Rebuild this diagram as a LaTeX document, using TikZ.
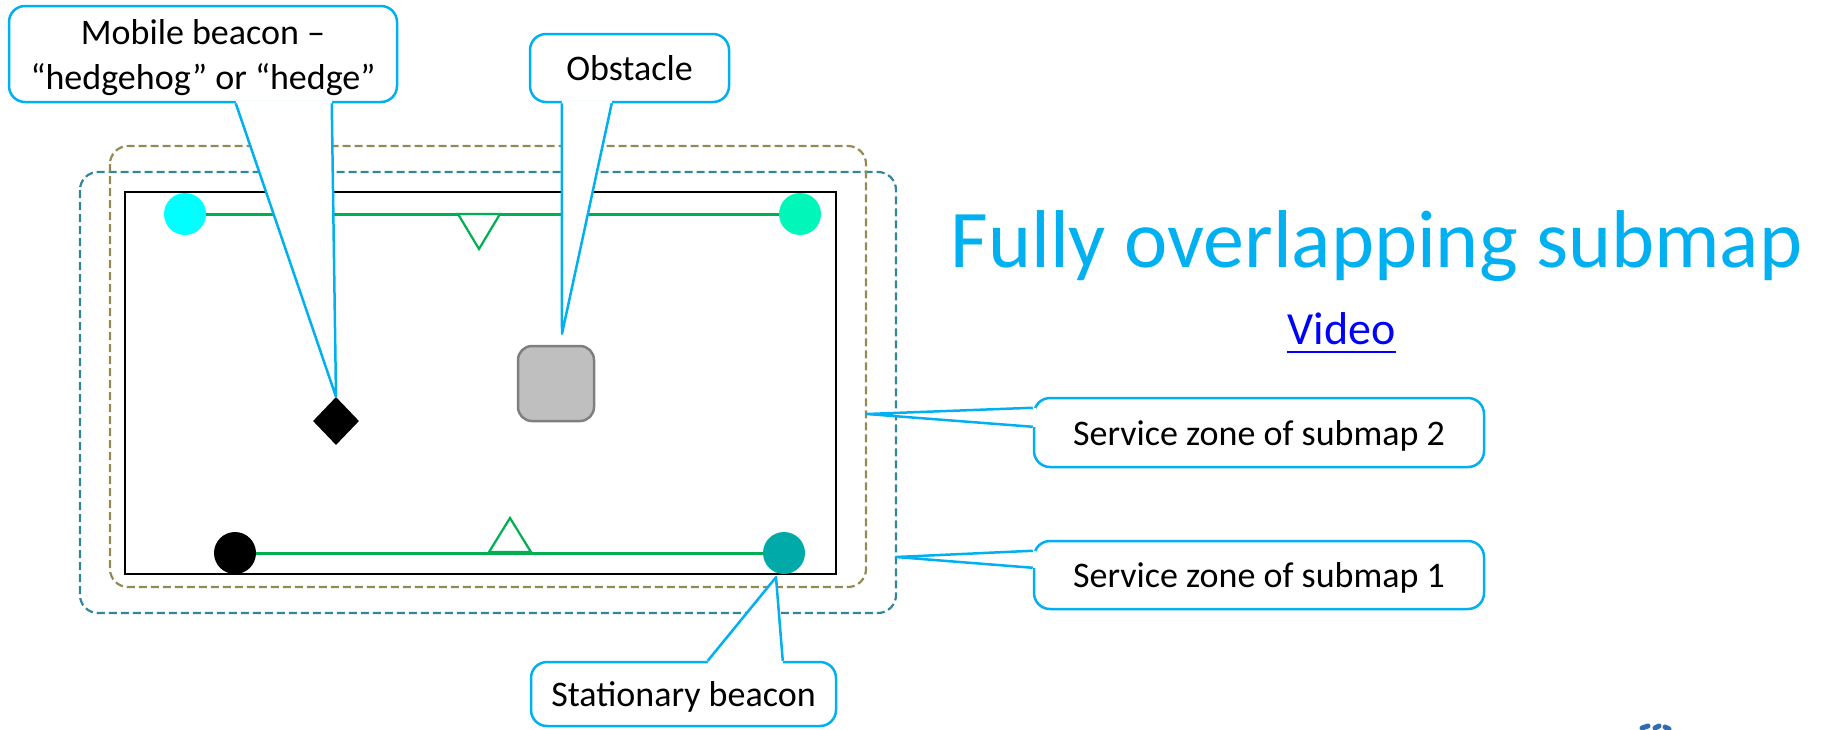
\documentclass[tikz,border=0pt]{standalone}
\usepackage{fontspec}
\setmainfont{Carlito}
\usetikzlibrary{calc,shapes.geometric}

\definecolor{calblue}{RGB}{0,176,240}
\definecolor{linkblue}{RGB}{0,0,255}
\definecolor{pathgreen}{RGB}{0,176,80}
\definecolor{zoneolive}{RGB}{148,138,84}
\definecolor{zoneteal}{RGB}{49,133,156}
\definecolor{dotcyan}{RGB}{0,255,255}
\definecolor{dotmint}{RGB}{0,247,186}
\definecolor{dotteal}{RGB}{0,170,168}
\definecolor{obstfill}{RGB}{191,191,191}
\definecolor{obstline}{RGB}{127,127,127}
\definecolor{logoblue}{RGB}{46,109,180}

% white wedge of a callout, with its two blue legs
\newcommand\calloutptr[4]{%
  \fill[white] ($#1+#4$) -- #1 -- #2 -- #3 -- ($#3+#4$) -- cycle;
  \draw[calline] #1 -- #2 -- #3;
}

\begin{document}
\begin{tikzpicture}[x=1pt,y=-1pt,
  callbox/.style={draw=calblue, line width=2.5pt, rounded corners=16pt, fill=white,
    font=\fontsize{36}{45}\selectfont, align=center, inner sep=0pt, text depth=0pt},
  calline/.style={draw=calblue, line width=2.5pt, line join=round},
  zonetwo/.style={draw=zoneolive, line width=2.2pt, dash pattern=on 8pt off 4pt, rounded corners=18pt},
  zoneone/.style={draw=zoneteal, line width=2.2pt, dash pattern=on 8pt off 4pt, rounded corners=18pt},
  beacon/.style={circle, minimum size=42pt, inner sep=0pt},
  gline/.style={draw=pathgreen, line width=3pt},
  marker/.style={draw=pathgreen, fill=white, line width=2.2pt, line join=miter},
]
\useasboundingbox (0,0) rectangle (1823,729);

% service zones and the room
\draw[zoneone] (80,172) rectangle (896,613);
\draw[zonetwo] (110,146) rectangle (866,587);
\draw[black, line width=2.5pt] (125,192) rectangle (836,574);

% stationary beacons
\node[beacon, fill=dotcyan] (bTL) at (185,214) {};
\node[beacon, fill=dotmint] (bTR) at (800,214) {};
\node[beacon, fill=black]   (bBL) at (235,553) {};
\node[beacon, fill=dotteal] (bBR) at (784,553) {};

% links between beacon pairs
\draw[gline] (bTL) -- (bTR);
\draw[gline] (bBL) -- (bBR);

% direction markers on the links
\draw[marker] (458,214) -- (500,214) -- (479,249) -- cycle;
\draw[marker] (489,552) -- (531,552) -- (510,518) -- cycle;

% obstacle and mobile beacon
\node[draw=obstline, fill=obstfill, line width=2.5pt, rounded corners=14pt,
      minimum width=76pt, minimum height=75pt, inner sep=0pt] (obst) at (556,383.5) {};
\node[diamond, fill=black, minimum width=46pt, minimum height=48pt, inner sep=0pt] (hedge) at (336,421) {};

% callouts
\node[callbox, minimum width=388pt, minimum height=96pt] (mob) at (203,54)
  {Mobile beacon –\\“hedgehog” or “hedge”};
\node[callbox, minimum width=199pt, minimum height=68pt] (obl) at (629.5,68) {Obstacle};
\node[callbox, minimum width=450pt, minimum height=69pt] (sz2) at (1259,432.5) {Service zone of submap 2};
\node[callbox, minimum width=450pt, minimum height=68pt] (sz1) at (1259,575) {Service zone of submap 1};
\node[callbox, minimum width=305pt, minimum height=64pt] (stb) at (683.5,694) {Stationary beacon};

\coordinate (mobA) at ($(mob.south west)+(228,0)$);
\coordinate (mobB) at ($(mob.south west)+(324,0)$);
\coordinate (oblA) at ($(obl.south west)+(33,0)$);
\coordinate (oblB) at ($(obl.south west)+(83,0)$);
\coordinate (oblT) at ($(obst.north)+(6,-11)$);
\coordinate (sz2A) at ($(sz2.north west)+(0,11)$);
\coordinate (sz2B) at ($(sz2.north west)+(0,30)$);
\coordinate (sz2T) at (867,414);
\coordinate (sz1A) at ($(sz1.north west)+(0,11)$);
\coordinate (sz1B) at ($(sz1.north west)+(0,28)$);
\coordinate (sz1T) at (896,557);
\coordinate (stbA) at ($(stb.north west)+(178,0)$);
\coordinate (stbB) at ($(stb.north west)+(253,0)$);
\coordinate (stbT) at ($(bBR.south)+(-8,3)$);

\calloutptr{(mobA)}{(hedge.north)}{(mobB)}{(0,-3)}
\calloutptr{(oblA)}{(oblT)}{(oblB)}{(0,-3)}
\calloutptr{(sz2A)}{(sz2T)}{(sz2B)}{(3,0)}
\calloutptr{(sz1A)}{(sz1T)}{(sz1B)}{(3,0)}
\calloutptr{(stbA)}{(stbT)}{(stbB)}{(0,3)}

% heading and link
\node[anchor=base, inner sep=0pt, text=calblue, font=\fontsize{82}{90}\selectfont] (title) at (1376.5,267)
  {Fully overlapping submap};
\node[anchor=base, inner sep=0pt, text=linkblue, font=\fontsize{46}{52}\selectfont] (video) at (1341.5,344) {Video};
\draw[linkblue, line width=2.5pt] ($(video.base west)+(0,8)$) -- ($(video.base east)+(0,8)$);

% corner mark
\draw[logoblue, line width=5pt, line cap=round] (1642,728) -- (1648,726);
\draw[logoblue, line width=5pt, line cap=round] (1655,728) -- (1659,726);
\draw[logoblue, line width=5pt, line cap=round] (1665,727) -- (1669,729);
\end{tikzpicture}
\end{document}
